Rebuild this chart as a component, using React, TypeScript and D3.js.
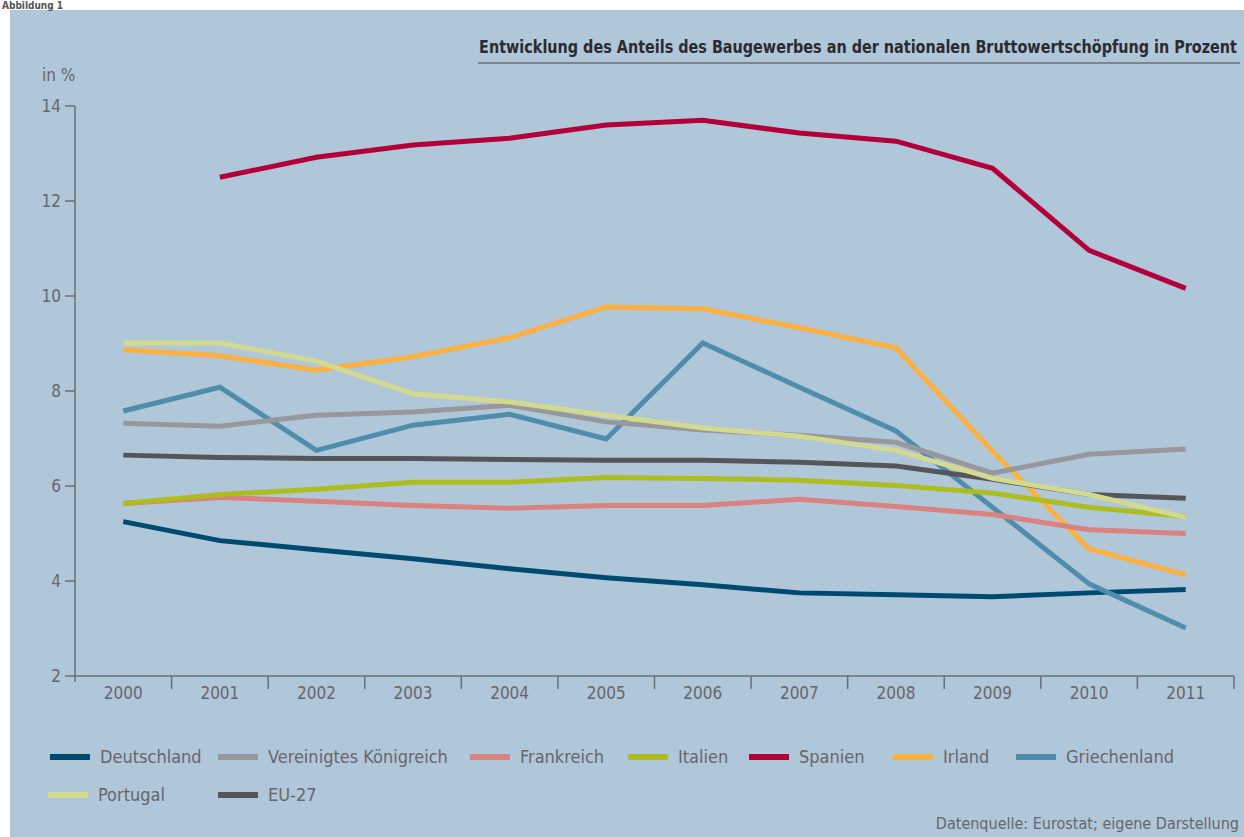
import React, { useEffect, useRef } from "react";
import * as d3 from "d3";

const years = ["2000","2001","2002","2003","2004","2005","2006","2007","2008","2009","2010","2011"];
const yTicks = [2, 4, 6, 8, 10, 12, 14];

const deutschland = [5.25, 4.85, 4.66, 4.47, 4.26, 4.07, 3.92, 3.75, 3.71, 3.67, 3.75, 3.82];
const vereinigtesKoenigreich = [7.32, 7.26, 7.49, 7.56, 7.7, 7.35, 7.18, 7.07, 6.92, 6.27, 6.67, 6.78];
const frankreich = [5.63, 5.76, 5.68, 5.59, 5.53, 5.59, 5.59, 5.72, 5.57, 5.4, 5.08, 5.0];
const italien = [5.63, 5.82, 5.93, 6.08, 6.08, 6.18, 6.16, 6.12, 6.01, 5.85, 5.55, 5.36];
const spanien = [null, 12.5, 12.92, 13.18, 13.32, 13.6, 13.7, 13.43, 13.26, 12.69, 10.96, 10.16];
const irland = [8.87, 8.74, 8.44, 8.72, 9.12, 9.77, 9.73, 9.33, 8.91, 6.73, 4.68, 4.13];
const griechenland = [7.58, 8.08, 6.75, 7.28, 7.51, 6.99, 9.01, 8.08, 7.16, 5.55, 3.94, 3.01];
const portugal = [9.01, 9.01, 8.63, 7.94, 7.77, 7.49, 7.22, 7.05, 6.75, 6.16, 5.82, 5.34];
const eu27 = [6.65, 6.6, 6.58, 6.58, 6.56, 6.54, 6.54, 6.5, 6.42, 6.14, 5.82, 5.74];

const seriesNames = ["Deutschland","Vereinigtes Königreich","Frankreich","Italien","Spanien","Irland","Griechenland","Portugal","EU-27"];
const seriesValues = [deutschland, vereinigtesKoenigreich, frankreich, italien, spanien, irland, griechenland, portugal, eu27];
const seriesColors = ["#004a6f","#98989c","#d9827f","#adbd1e","#b3003a","#fbb03f","#4f8dad","#d3d98e","#555659"];
const drawOrder = [0, 6, 5, 4, 2, 3, 8, 1, 7];

const FONT = "'Liberation Sans Narrow', 'DejaVu Sans Condensed', 'Roboto', sans-serif";
const TXT = "#66676b";

export default function App() {
  const ref = useRef<SVGSVGElement>(null);
  useEffect(() => {
    document.body.style.margin = "0";
    const svg = d3.select(ref.current);
    svg.selectAll("*").remove();

    svg.append("rect").attr("x", 0).attr("y", 0).attr("width", 1244).attr("height", 837).attr("fill", "#ffffff");
    svg.append("rect").attr("x", 10).attr("y", 10).attr("width", 1234).attr("height", 827).attr("fill", "#b0c6d9");
    svg.append("text").attr("x", 2).attr("y", 9).attr("font-family", FONT).attr("font-weight", "bold")
      .attr("font-size", 10).attr("fill", "#555").text("Abbildung 1");

    // title
    svg.append("text").attr("transform", "translate(1237,53) scale(0.89,1)").attr("text-anchor", "end")
      .attr("font-family", FONT).attr("font-weight", "bold").attr("font-size", 18).attr("fill", "#2b2b30")
      .text("Entwicklung des Anteils des Baugewerbes an der nationalen Bruttowertschöpfung in Prozent");
    svg.append("line").attr("x1", 478).attr("x2", 1240).attr("y1", 63).attr("y2", 63)
      .attr("stroke", "#7d8690").attr("stroke-width", 2);

    const x = d3.scaleBand().domain(years).range([75, 1234]);
    const y = d3.scaleLinear().domain([2, 14]).range([676, 106]);

    const axisColor = "#6d6e72";
    // y axis
    svg.append("line").attr("x1", 75).attr("x2", 75).attr("y1", y(14)).attr("y2", y(2) + 6)
      .attr("stroke", axisColor).attr("stroke-width", 1.5);
    const yt = svg.append("g");
    yTicks.forEach((t) => {
      yt.append("line").attr("x1", 65).attr("x2", 75).attr("y1", y(t)).attr("y2", y(t))
        .attr("stroke", axisColor).attr("stroke-width", 1.5);
      yt.append("text").attr("x", 61).attr("y", y(t)).attr("dy", "0.35em").attr("text-anchor", "end")
        .attr("font-family", FONT).attr("font-size", 17).attr("fill", TXT).text(String(t));
    });
    svg.append("text").attr("x", 42).attr("y", 81).attr("font-family", FONT).attr("font-size", 17)
      .attr("fill", TXT).text("in %");

    // x axis
    svg.append("line").attr("x1", 75).attr("x2", 1234).attr("y1", y(2)).attr("y2", y(2))
      .attr("stroke", axisColor).attr("stroke-width", 1.5);
    years.forEach((yr, i) => {
      const b = x(yr)!;
      if (i > 0) {
        svg.append("line").attr("x1", b).attr("x2", b).attr("y1", y(2)).attr("y2", y(2) + 13)
          .attr("stroke", axisColor).attr("stroke-width", 1.5);
      }
      svg.append("text").attr("x", b + x.bandwidth() / 2).attr("y", y(2) + 23).attr("text-anchor", "middle")
        .attr("font-family", FONT).attr("font-size", 17).attr("fill", TXT).text(yr);
    });
    svg.append("line").attr("x1", 1234).attr("x2", 1234).attr("y1", y(2)).attr("y2", y(2) + 13)
      .attr("stroke", axisColor).attr("stroke-width", 1.5);

    const line = d3.line<number | null>()
      .defined((d) => d != null)
      .x((_, i) => x(years[i])! + x.bandwidth() / 2)
      .y((d) => y(d as number));

    drawOrder.forEach((si) => {
      svg.append("path").attr("d", line(seriesValues[si] as (number | null)[]))
        .attr("fill", "none").attr("stroke", seriesColors[si]).attr("stroke-width", 5)
        .attr("stroke-linejoin", "miter");
    });

    // legend
    const legendPos = [
      [50, 757], [218, 757], [470, 757], [628, 757], [749, 757], [893, 757], [1016, 757],
      [48, 795], [218, 795],
    ];
    seriesNames.forEach((n, i) => {
      const [lx, ly] = legendPos[i];
      svg.append("line").attr("x1", lx).attr("x2", lx + 40).attr("y1", ly).attr("y2", ly)
        .attr("stroke", seriesColors[i]).attr("stroke-width", 6);
      svg.append("text").attr("x", lx + 50).attr("y", ly).attr("dy", "0.35em")
        .attr("font-family", FONT).attr("font-size", 18).attr("fill", TXT).text(n);
    });

    svg.append("text").attr("x", 1239).attr("y", 829).attr("text-anchor", "end")
      .attr("font-family", FONT).attr("font-size", 16).attr("fill", TXT)
      .text("Datenquelle: Eurostat; eigene Darstellung");
  }, []);
  return <svg ref={ref} width={1244} height={837} style={{ display: "block" }} />;
}
